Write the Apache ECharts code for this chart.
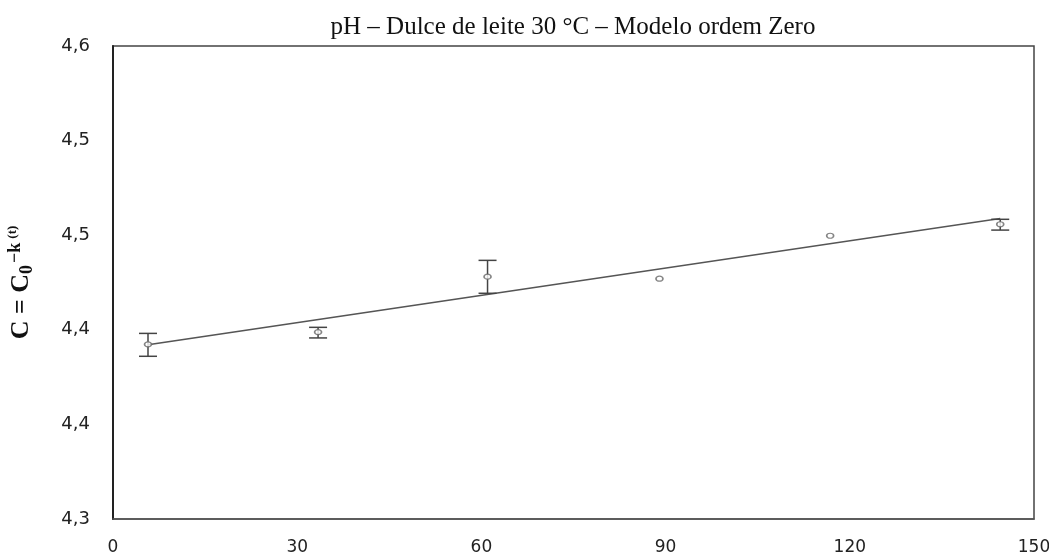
<!DOCTYPE html>
<html>
<head>
<meta charset="utf-8">
<script src="https://cdn.jsdelivr.net/npm/echarts@6/dist/echarts.min.js"></script>
<style>html,body{margin:0;padding:0;background:#fff}#c{width:1049px;height:556px}</style>
</head>
<body>
<div id="c"></div>
<script>
// Data
const timeX = [5.7, 33.4, 61.0, 89.0, 116.8, 144.5];
const phMean = [4.3923, 4.3988, 4.4281, 4.4270, 4.4497, 4.4558];
const phLow  = [4.3860, 4.3957, 4.4193, null, null, 4.4527];
const phHigh = [4.3981, 4.4013, 4.4367, null, null, 4.4584];
const fitX = [5.7, 144.5];
const fitY = [4.3921, 4.4588];
const yTickLabels = ['4,3', '4,4', '4,4', '4,5', '4,5', '4,6'];
const xTickLabels = ['0', '30', '60', '90', '120', '150'];
const titleText = 'pH – Dulce de leite 30 °C – Modelo ordem Zero';

const yMin = 4.3, yInt = 0.05, yMax = 4.55;

const points = timeX.map((x, i) => [x, phMean[i]]);
const errData = [];
timeX.forEach((x, i) => { if (phLow[i] != null) errData.push([x, phLow[i], phHigh[i]]); });
const fitData = fitX.map((x, i) => [x, fitY[i]]);

const chart = echarts.init(document.getElementById('c'));
chart.setOption({
  animation: false,
  backgroundColor: '#fff',
  title: {
    text: titleText,
    left: 568, textAlign: 'center', top: 10,
    textStyle: { fontFamily: 'Liberation Serif', fontSize: 25, fontWeight: 'normal', color: '#111' }
  },
  grid: { left: 113, right: 15, top: 46, bottom: 37, show: true, borderColor: '#444', borderWidth: 1.5, containLabel: false, outerBoundsMode: 'none' },
  xAxis: {
    type: 'value', min: 0, max: 150, interval: 30,
    axisLine: { show: true, lineStyle: { color: '#555', width: 1.5 } },
    axisTick: { show: false },
    splitLine: { show: false },
    axisLabel: {
      margin: 20, color: '#222', fontFamily: 'DejaVu Sans', fontSize: 17,
      formatter: v => xTickLabels[Math.round(v / 30)] ?? ''
    }
  },
  yAxis: {
    type: 'value', min: yMin, max: yMax, interval: yInt,
    axisLine: { show: true, lineStyle: { color: '#222', width: 2 } },
    axisTick: { show: false },
    splitLine: { show: false },
    axisLabel: {
      margin: 23, color: '#222', fontFamily: 'DejaVu Sans', fontSize: 18,
      formatter: v => yTickLabels[Math.round((v - yMin) / yInt)] ?? ''
    },
    name: '{m|C = C}{sub|0}{sup|−k}{sup2|(t)}',
    nameLocation: 'middle', nameRotate: 90, nameGap: 77,
    nameTextStyle: {
      rich: {
        m: { fontFamily: 'Liberation Serif', fontWeight: 'bold', fontSize: 26, color: '#111' },
        sub: { fontFamily: 'Liberation Serif', fontWeight: 'bold', fontSize: 18, color: '#111', verticalAlign: 'bottom', padding: [12, 0, 0, 0] },
        sup: { fontFamily: 'Liberation Serif', fontWeight: 'bold', fontSize: 18, color: '#111', verticalAlign: 'top', padding: [0, 0, 12, 2] },
        sup2: { fontFamily: 'Liberation Serif', fontWeight: 'bold', fontSize: 13, color: '#111', verticalAlign: 'top', padding: [0, 0, 15, 4] }
      }
    }
  },
  series: [
    {
      type: 'line', data: fitData, symbol: 'none',
      lineStyle: { color: '#555', width: 1.5 }, z: 2
    },
    {
      type: 'custom', data: errData, z: 3,
      renderItem: function (params, api) {
        const x = api.value(0);
        const lo = api.coord([x, api.value(1)]);
        const hi = api.coord([x, api.value(2)]);
        const w = 9;
        const st = { stroke: '#444', lineWidth: 1.5 };
        return {
          type: 'group',
          children: [
            { type: 'line', shape: { x1: lo[0], y1: lo[1], x2: hi[0], y2: hi[1] }, style: st },
            { type: 'line', shape: { x1: lo[0] - w, y1: lo[1], x2: lo[0] + w, y2: lo[1] }, style: st },
            { type: 'line', shape: { x1: hi[0] - w, y1: hi[1], x2: hi[0] + w, y2: hi[1] }, style: st }
          ]
        };
      }
    },
    {
      type: 'scatter', data: points, symbol: 'circle', symbolSize: [7, 5], z: 4,
      itemStyle: { color: '#fff', borderColor: '#666', borderWidth: 1.4 }
    }
  ]
});
</script>
</body>
</html>
